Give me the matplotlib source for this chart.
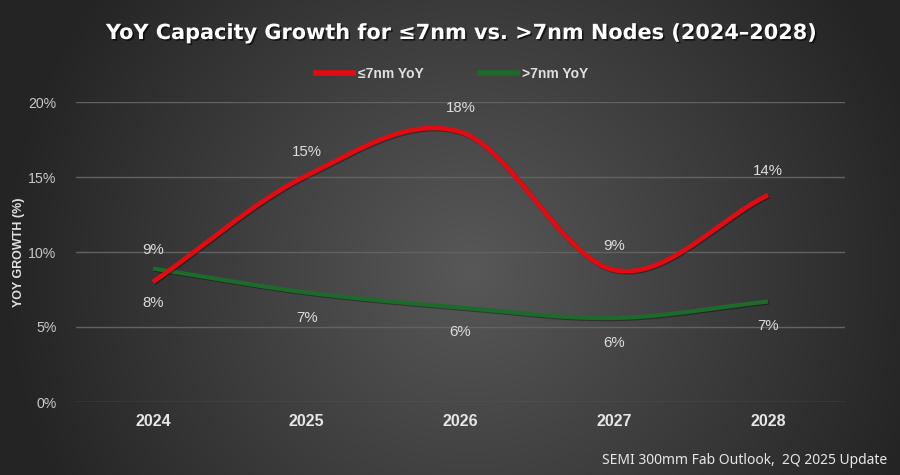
import numpy as np
import matplotlib
matplotlib.use("Agg")
import matplotlib.pyplot as plt
from matplotlib import patheffects as pe
from matplotlib.ticker import FuncFormatter
from matplotlib.lines import Line2D

# ---- data ----
years = ["2024", "2025", "2026", "2027", "2028"]
le7_yoy = [8.0, 15.1, 18.0, 8.8, 13.8]
gt7_yoy = [8.9, 7.3, 6.3, 5.6, 6.7]
series_names = ["\u22647nm YoY", ">7nm YoY"]
title = "YoY Capacity Growth for \u22647nm vs. >7nm Nodes (2024\u20132028)"
ylabel = "YOY GROWTH (%)"
source = "SEMI 300mm Fab Outlook,  2Q 2025 Update"
yticks = [0, 5, 10, 15, 20]

RED = "#e30b12"
GREEN = "#1d6a2b"


def smooth(vals, n=60):
    """Catmull-Rom style smoothing (like Excel 'smoothed line')."""
    p = np.asarray(vals, float)
    k = len(p)
    m = np.zeros(k)
    for i in range(k):
        if i == 0:
            m[i] = p[1] - p[0]
        elif i == k - 1:
            m[i] = p[-1] - p[-2]
        else:
            m[i] = (p[i + 1] - p[i - 1]) / 2.0
    xs, ys = [], []
    for i in range(k - 1):
        t = np.linspace(0, 1, n, endpoint=(i == k - 2))
        h00 = 2 * t**3 - 3 * t**2 + 1
        h10 = t**3 - 2 * t**2 + t
        h01 = -2 * t**3 + 3 * t**2
        h11 = t**3 - t**2
        ys.append(h00 * p[i] + h10 * m[i] + h01 * p[i + 1] + h11 * m[i + 1])
        xs.append(i + t)
    return np.concatenate(xs), np.concatenate(ys)


fig = plt.figure(figsize=(9, 4.75), dpi=100)

# background radial gradient
bg = fig.add_axes([0, 0, 1, 1], zorder=-10)
W, H = 900, 475
gx, gy = np.meshgrid(np.arange(W), np.arange(H))
d = np.sqrt(((gx - 470) / 470.0) ** 2 + ((gy - 270) / 470.0) ** 2)
d = np.clip(d, 0, 1)
c = (0x58 - (0x58 - 0x24) * d) / 255.0
img = np.dstack([c, c, c])
bg.imshow(img, aspect="auto", extent=[0, 1, 0, 1], origin="upper")
bg.axis("off")

ax = fig.add_axes([76 / 900, 1 - 402 / 475, (845 - 76) / 900, 300 / 475])
ax.set_facecolor("none")
x = np.arange(len(years))

shadow = [pe.SimpleLineShadow(offset=(0.8, -0.8), shadow_color="black", alpha=0.35), pe.Normal()]
for vals, col, lw in [(gt7_yoy, GREEN, 3.0), (le7_yoy, RED, 3.3)]:
    sx, sy = smooth(vals)
    ax.plot(sx, sy, color=col, lw=lw, solid_capstyle="butt", clip_on=False,
            path_effects=shadow, zorder=3)

lab_kw = dict(fontsize=10.8, color="#dcdcdc", ha="center", va="center",
              family="Liberation Sans", textcoords="offset points")
for i, v in enumerate(le7_yoy):
    dy = -15 if i == 0 else 17
    ax.annotate(f"{v:.0f}%", (i, v), xytext=(0, dy), **lab_kw)
for i, v in enumerate(gt7_yoy):
    dy = 13 if i == 0 else -18
    ax.annotate(f"{v:.0f}%", (i, v), xytext=(0, dy), **lab_kw)

ax.set_xlim(-0.5, len(years) - 0.5)
ax.set_ylim(0, 20)
ax.set_yticks(yticks)
ax.yaxis.set_major_formatter(FuncFormatter(lambda v, p: f"{v:.0f}%"))
ax.set_xticks(x)
ax.set_xticklabels(years)
ax.grid(axis="y", color="#626262", lw=1.0)
ax.set_axisbelow(True)
for s in ax.spines.values():
    s.set_visible(False)
ax.tick_params(length=0)
ax.tick_params(axis="y", pad=14, labelsize=10.2, labelcolor="#c8c8c8")
ax.tick_params(axis="x", pad=9, labelsize=11.5, labelcolor="#e6e6e6")
for t in ax.get_yticklabels():
    t.set_family("Liberation Sans")
for t in ax.get_xticklabels():
    t.set_family("Liberation Sans")
    t.set_fontweight("bold")

fig.text(19 / 900, 1 - 252 / 475, ylabel, rotation=90, ha="center", va="center",
         fontsize=9, fontweight="bold", color="#e0e0e0", family="Liberation Sans")

fig.text(462 / 900, 1 - 33 / 475, title, ha="center", va="center", fontsize=15,
         fontweight="bold", color="white", family="DejaVu Sans",
         path_effects=[pe.withSimplePatchShadow(offset=(1.2, -1.2), shadow_rgbFace="black", alpha=0.6)])

# legend
handles = [Line2D([], [], color=RED, lw=4), Line2D([], [], color=GREEN, lw=4)]
leg = fig.legend(handles, series_names, loc="center", bbox_to_anchor=(452 / 900, 1 - 74 / 475),
                 ncol=2, frameon=False, handlelength=2.7, handletextpad=0.35, columnspacing=4.0,
                 prop={"family": "Liberation Sans", "weight": "bold", "size": 10})
for t in leg.get_texts():
    t.set_color("#e0e0e0")

fig.text(887 / 900, 1 - 460 / 475, source, ha="right", va="center", fontsize=10,
         color="#e6e6e6", family="Noto Sans")

fig.savefig("out.png", dpi=100)
